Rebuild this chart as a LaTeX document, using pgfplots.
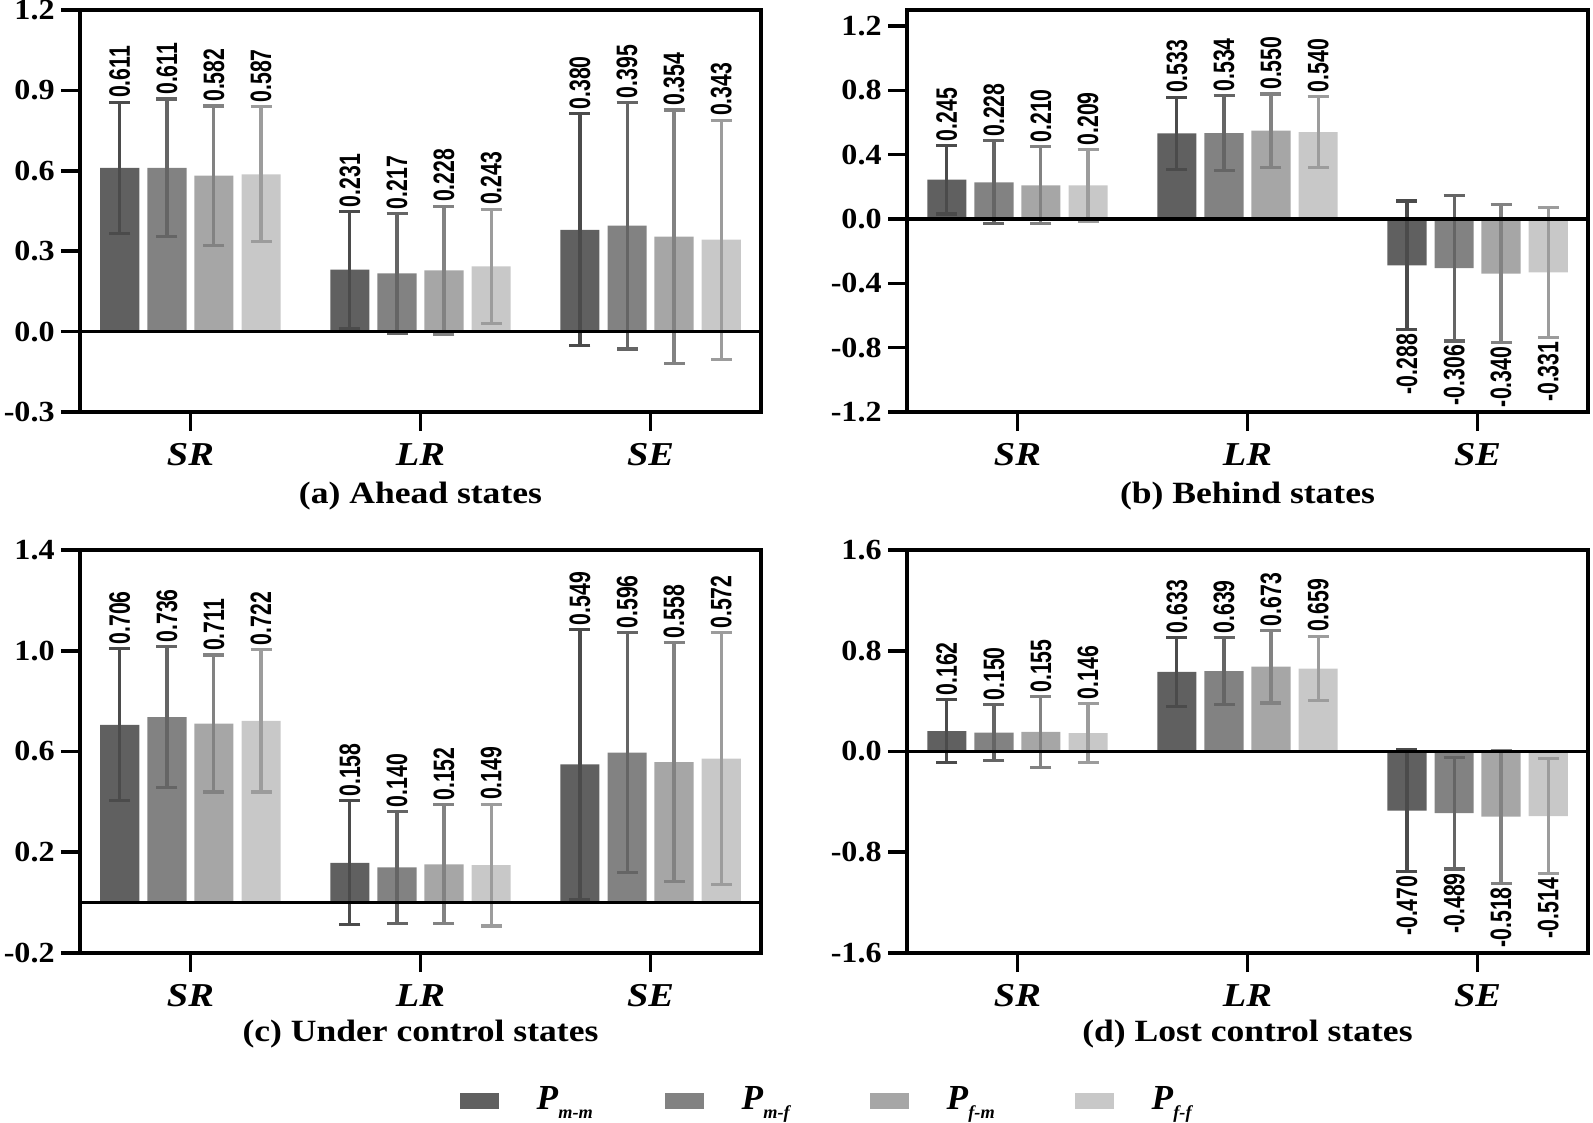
\documentclass[border=0pt]{standalone}
\usepackage{fontspec}
\setmainfont{Liberation Serif}
\newfontfamily\tickfont[FakeStretch=1.1]{Liberation Serif}
\newfontfamily\catfont[FakeStretch=1.15]{Liberation Serif}
\newfontfamily\valfont[FakeStretch=0.72]{Liberation Sans}
\usepackage{pgfplots}
\usepackage{pgfplotstable}
\pgfplotsset{compat=1.18}

\definecolor{GA}{RGB}{96,96,96}
\definecolor{GB}{RGB}{130,130,130}
\definecolor{GC}{RGB}{166,166,166}
\definecolor{GD}{RGB}{200,200,200}

% x: category, a..d: mean of each pairing, ea..ed: error
\pgfplotstableread{
x a ea b eb c ec d ed
0 0.611 0.245 0.611 0.257 0.582 0.260 0.587 0.252
1 0.231 0.218 0.217 0.224 0.228 0.240 0.243 0.214
2 0.380 0.433 0.395 0.460 0.354 0.473 0.343 0.446
}\ahead
\pgfplotstableread{
x a ea b eb c ec d ed
0 0.245 0.214 0.228 0.258 0.210 0.240 0.209 0.223
1 0.533 0.225 0.534 0.233 0.550 0.228 0.540 0.222
2 -0.288 0.400 -0.306 0.452 -0.340 0.428 -0.331 0.405
}\behind
\pgfplotstableread{
x a ea b eb c ec d ed
0 0.706 0.302 0.736 0.280 0.711 0.272 0.722 0.283
1 0.158 0.246 0.140 0.222 0.152 0.236 0.149 0.242
2 0.549 0.536 0.596 0.476 0.558 0.475 0.572 0.499
}\under
\pgfplotstableread{
x a ea b eb c ec d ed
0 0.162 0.249 0.150 0.222 0.155 0.279 0.146 0.236
1 0.633 0.273 0.639 0.265 0.673 0.288 0.659 0.257
2 -0.470 0.482 -0.489 0.444 -0.518 0.527 -0.514 0.457
}\lost

\pgfplotsset{
  panel/.style={
    scale only axis, width=68.1mm,
    xmin=-0.48, xmax=2.48,
    xtick={0,1,2}, xticklabels={SR,LR,SE},
    axis line style={line width=1pt},
    tick align=outside, xtick pos=bottom, ytick pos=left,
    major tick length=1.9mm,
    tick style={black, line width=1pt},
    yticklabel style={font=\tickfont\bfseries\fontsize{8.3}{9}\selectfont, xshift=0.6mm,
      /pgf/number format/fixed, /pgf/number format/fixed zerofill,
      /pgf/number format/precision=1, /pgf/number format/assume math mode=true},
    xticklabel style={font=\catfont\bfseries\itshape\fontsize{9.5}{11}\selectfont},
    xlabel style={font=\catfont\bfseries\fontsize{8.8}{10}\selectfont, anchor=center},
    clip=false,
  },
  vlab/.style={draw=none, mark=none, forget plot,
    nodes near coords, point meta=explicit symbolic,
    nodes near coords style={font=\valfont\bfseries\fontsize{8.4}{9}\selectfont,
      rotate=90, inner sep=0.35mm}},
}

% #1 table, #2 column, #3 error column, #4 colour, #5 shift
\newcommand\series[5]{%
  \addplot[ybar, bar width=0.17, bar shift=0pt, fill=#4, draw=none,
    legend image code/.code={\fill[#4] (0mm,-0.8mm) rectangle (3.9mm,0.8mm);},
    error bars/.cd, y dir=both, y explicit,
    error bar style={#4!78!black, line width=0.9pt},
    error mark options={#4!78!black, line width=0.9pt, mark size=1.05mm, rotate=90}]
    table[x expr=\thisrow{x}+#5, y=#2, y error=#3] {#1};
  \addplot[vlab, restrict expr to domain={\thisrow{#2}}{0:5},
    nodes near coords style={anchor=west}]
    table[x expr=\thisrow{x}+#5, y expr=\thisrow{#2}+\thisrow{#3}, meta=#2] {#1};
  \addplot[vlab, restrict expr to domain={\thisrow{#2}}{-5:0},
    nodes near coords style={anchor=east}]
    table[x expr=\thisrow{x}+#5, y expr=\thisrow{#2}-\thisrow{#3}, meta=#2] {#1};
}
\newcommand\allseries[1]{%
  \series{#1}{a}{ea}{GA}{-0.307}
  \series{#1}{b}{eb}{GB}{-0.102}
  \series{#1}{c}{ec}{GC}{0.102}
  \series{#1}{d}{ed}{GD}{0.307}
  \addplot[black, line width=1pt, forget plot] coordinates {(-0.48,0) (2.48,0)};
}
\newcommand\pk[1]{\textit{P}\raisebox{-0.55ex}{\fontsize{5.2}{6}\selectfont\textit{#1}}}

\begin{document}
\begin{tikzpicture}
\useasboundingbox (0,0) rectangle (159.3mm,112.2mm);

\begin{axis}[panel, height=40.2mm, at={(8.0mm,111.2mm)}, anchor=north west,
  ymin=-0.3, ymax=1.2, ytick={-0.3,0,0.3,0.6,0.9,1.2},
  xlabel={(a) Ahead states}, xlabel style={at={(axis description cs:0.5,-0.21)}}]
\allseries{\ahead}
\end{axis}

\begin{axis}[panel, height=40.2mm, at={(90.7mm,111.2mm)}, anchor=north west,
  ymin=-1.2, ymax=1.3, ytick={-1.2,-0.8,-0.4,0,0.4,0.8,1.2},
  xlabel={(b) Behind states}, xlabel style={at={(axis description cs:0.5,-0.21)}}]
\allseries{\behind}
\end{axis}

\begin{axis}[panel, height=40.3mm, at={(8.0mm,57.2mm)}, anchor=north west,
  ymin=-0.2, ymax=1.4, ytick={-0.2,0.2,0.6,1.0,1.4},
  xlabel={(c) Under control states}, xlabel style={at={(axis description cs:0.5,-0.2)}},
  legend columns=4,
  legend entries={
    \makebox[12.8mm][l]{\pk{m-m}},
    \makebox[12.8mm][l]{\pk{m-f}},
    \makebox[12.8mm][l]{\pk{f-m}},
    \makebox[12.8mm][l]{\pk{f-f}}},
  legend style={at={(axis description cs:0.5565,-0.367)}, anchor=west,
    draw=none, fill=none, inner sep=0pt,
    font=\bfseries\fontsize{10}{11}\selectfont,
    nodes={inner sep=0pt},
    /tikz/every odd column/.append style={column sep=3.8mm}}]
\allseries{\under}
\end{axis}

\begin{axis}[panel, height=40.3mm, at={(90.7mm,57.2mm)}, anchor=north west,
  ymin=-1.6, ymax=1.6, ytick={-1.6,-0.8,0,0.8,1.6},
  xlabel={(d) Lost control states}, xlabel style={at={(axis description cs:0.5,-0.2)}}]
\allseries{\lost}
\end{axis}
\end{tikzpicture}
\end{document}
